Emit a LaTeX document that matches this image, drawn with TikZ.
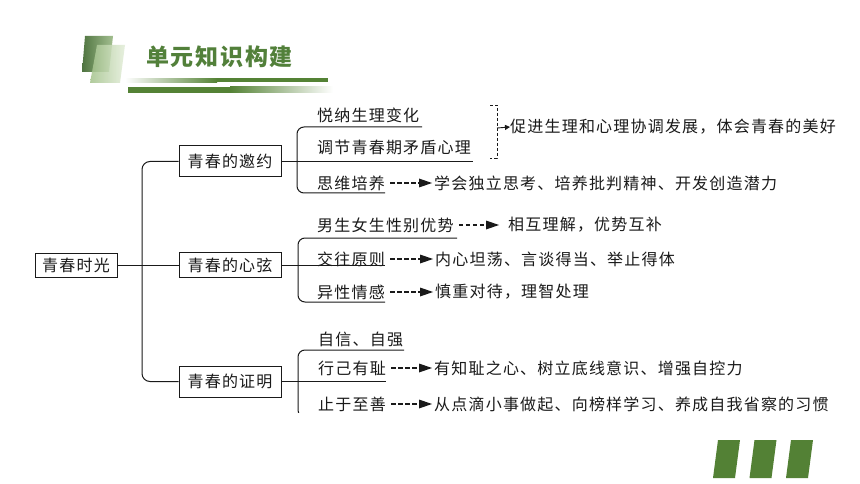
\documentclass[tikz,border=0pt]{standalone}
\usepackage{fontspec}
\newfontfamily\cjk[LetterSpace=7.5]{Noto Sans CJK SC}
\usetikzlibrary{arrows.meta,calc}
\definecolor{hgreen}{HTML}{548235}
\definecolor{titlegreen}{HTML}{52803A}
\definecolor{dgreen}{HTML}{538135}
\definecolor{pgA}{HTML}{4F7440}
\definecolor{pgB}{HTML}{A3BF90}
\definecolor{pgC}{HTML}{A3C28B}
\definecolor{pgD}{HTML}{E4EEDA}
\definecolor{inkc}{HTML}{1A1A1A}
% dashed arrow from node #1 to node #2, ending #3 pt before #2
\newcommand{\mydasharrow}[3]{%
  \draw[dline] ([xshift=5pt]#1.east) -- ([xshift=-#3pt-12pt]#2.west);
  \fill[inkc] ([xshift=-#3pt]#2.west) -- ++(-13,-4.5) -- ++(0,9) -- cycle;}
\begin{document}
\begin{tikzpicture}[x=1pt,y=-1pt,
  txt/.style={font=\cjk\fontsize{16}{16}\selectfont, text=inkc, inner sep=0pt, anchor=west},
  box/.style={draw=inkc, line width=1pt, minimum width=102pt, minimum height=31pt, inner sep=0pt, font=\cjk\fontsize{16}{16}\selectfont, text=inkc},
  ln/.style={draw=inkc, line width=1pt},
  dline/.style={draw=inkc, line width=1.4pt, dash pattern=on 4.5pt off 2.5pt},
]
\fill[white] (0,0) rectangle (860,484);
% header
\shade[left color=pgA, right color=pgB] (85,36) -- (113,36) -- (109,72) -- (82,72) -- cycle;
\shade[left color=pgC, right color=pgD, opacity=0.85] (97,45) -- (125,45) -- (120,83) -- (90,83) -- cycle;
\node[font=\cjk\bfseries\fontsize{23}{23}\selectfont, text=titlegreen, anchor=west, inner sep=0pt] (title) at (146,56.5) {单元知识构建};
\shade[left color=white, right color=hgreen] (125,78.5) rectangle (217,82.5);
\fill[hgreen] (217,78.5) rectangle (328,82.5);
\fill[hgreen] (128,87) rectangle (230,93);
\shade[left color=hgreen, right color=white] (230,87) rectangle (333,93);
% boxes
\node[box, minimum width=82pt, minimum height=24pt] (root) at (76,265) {青春时光};
\node[box] (b1) at (230,161.5) {青春的邀约};
\node[box, minimum height=25pt] (b2) at (230,265) {青春的心弦};
\node[box] (b3) at (230,381.5) {青春的证明};
\draw[ln, rounded corners=8] (b1.west) -| (142,300) |- (b3.west);
\draw[ln] (root.east) -- (b2.west);
% branch 1
\node[txt] (t1a) at (317,115) {悦纳生理变化};
\node[txt] (t1b) at (317,147.5) {调节青春期矛盾心理};
\node[txt] (t1c) at (317,183) {思维培养};
\node[txt] (d1c) at (434,183) {学会独立思考、培养批判精神、开发创造潜力};
\node[txt] (d1) at (510,127) {促进生理和心理协调发展，体会青春的美好};
\draw[ln] (b1.east) -- (473,161.5);
\draw[ln, rounded corners=7] (422,127) -- (297,127) -- (297,193) -- (385,193);
\mydasharrow{t1c}{d1c}{2}
\draw[ln, line width=0.9pt, dash pattern=on 3pt off 2pt] (490,105) -- (497,105) -- (497,158) -- (490,158);
\coordinate (tick) at (497,128);
\draw[ln, line width=0.9pt, -{Triangle[length=5pt,width=5pt]}] (tick) -- (d1.west);
% branch 2
\node[txt] (t2a) at (317,225) {男生女生性别优势};
\node[txt] (d2a) at (508,225) {相互理解，优势互补};
\node[txt] (t2b) at (317,259) {交往原则};
\node[txt] (d2b) at (435,259) {内心坦荡、言谈得当、举止得体};
\node[txt] (t2c) at (317,292) {异性情感};
\node[txt] (d2c) at (435,292) {慎重对待，理智处理};
\draw[ln] (b2.east) -- (385,265);
\draw[ln, rounded corners=7] (457,238) -- (298,238) -- (298,302) -- (385,302);
\mydasharrow{t2a}{d2a}{9}
\mydasharrow{t2b}{d2b}{2}
\mydasharrow{t2c}{d2c}{2}
% branch 3
\node[txt] (t3a) at (318,339) {自信、自强};
\node[txt] (t3b) at (318,368) {行己有耻};
\node[txt] (d3b) at (434,368) {有知耻之心、树立底线意识、增强自控力};
\node[txt] (t3c) at (318,404) {止于至善};
\node[txt] (d3c) at (434,404) {从点滴小事做起、向榜样学习、养成自我省察的习惯};
\draw[ln] (b3.east) -- (386,381.5);
\begin{scope}
\clip (280,330) rectangle (420,412);
\draw[ln, rounded corners=7] (404,350) -- (298,350) -- (298,417) -- (330,417);
\end{scope}
\mydasharrow{t3b}{d3b}{2}
\mydasharrow{t3c}{d3c}{2}
% bottom right marks
\foreach \dx in {0,36.5,73}
  \fill[dgreen] (718+\dx,440) -- (740+\dx,440) -- (735+\dx,478) -- (713+\dx,478) -- cycle;
\end{tikzpicture}
\end{document}
